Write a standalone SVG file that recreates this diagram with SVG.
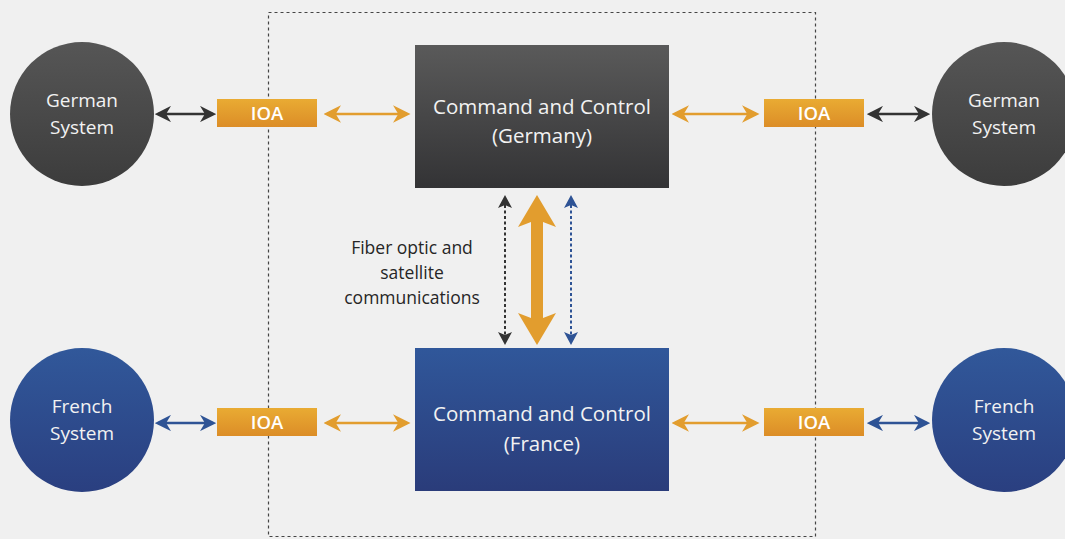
<svg xmlns="http://www.w3.org/2000/svg" width="1065" height="539" viewBox="0 0 1065 539">
<style>
text{font-family:"Open Sans","Noto Sans","DejaVu Sans",sans-serif;text-anchor:middle}
.w{fill:#f2f2f2;font-size:19px}
.cc{fill:#f2f2f2;font-size:20.5px}
.ioa{fill:#fff;font-size:18.5px;font-weight:600}
.lbl{fill:#262626;font-size:17.5px}
.blk{stroke:#333;stroke-width:2.5;fill:none}
.blu{stroke:#2e5395;stroke-width:2.5;fill:none}
.org{stroke:#e29d2e;stroke-width:2.5;fill:none}
</style>
<defs>
<linearGradient id="gGray" x1="0" y1="0" x2="0" y2="1"><stop offset="0" stop-color="#565656"/><stop offset="1" stop-color="#3c3c3c"/></linearGradient>
<linearGradient id="gBox" x1="0" y1="0" x2="0" y2="1"><stop offset="0" stop-color="#5a5a5a"/><stop offset="1" stop-color="#333335"/></linearGradient>
<linearGradient id="gBlue" x1="0" y1="0" x2="0" y2="1"><stop offset="0" stop-color="#31589a"/><stop offset="1" stop-color="#2a3f80"/></linearGradient>
<linearGradient id="gBlueBox" x1="0" y1="0" x2="0" y2="1"><stop offset="0" stop-color="#30579a"/><stop offset="1" stop-color="#2a3c7a"/></linearGradient>
<linearGradient id="gOrg" x1="0" y1="0" x2="0" y2="1"><stop offset="0" stop-color="#e9ab33"/><stop offset="1" stop-color="#dc8d27"/></linearGradient>
<marker id="aBlk" viewBox="0 0 10 10" refX="8" refY="5" markerWidth="6.5" markerHeight="6.5" markerUnits="strokeWidth" orient="auto-start-reverse"><path d="M0,0 L10,5 L0,10 L3,5 Z" fill="#333"/></marker>
<marker id="aBlu" viewBox="0 0 10 10" refX="8" refY="5" markerWidth="6.5" markerHeight="6.5" markerUnits="strokeWidth" orient="auto-start-reverse"><path d="M0,0 L10,5 L0,10 L3,5 Z" fill="#2e5395"/></marker>
<marker id="aOrg" viewBox="0 0 10 10" refX="8" refY="5" markerWidth="7" markerHeight="7" markerUnits="strokeWidth" orient="auto-start-reverse"><path d="M0,0 L10,5 L0,10 L3,5 Z" fill="#e29d2e"/></marker>
</defs>
<rect width="1065" height="539" fill="#f0f0f0"/>
<rect x="268.5" y="12.5" width="547" height="524" fill="none" stroke="#444" stroke-width="1.2" stroke-dasharray="3,3"/>

<g id="connectors">
<line class="blk" x1="158" y1="114" x2="213" y2="114" marker-start="url(#aBlk)" marker-end="url(#aBlk)"/>
<line class="blk" x1="870" y1="114" x2="927" y2="114" marker-start="url(#aBlk)" marker-end="url(#aBlk)"/>
<line class="blu" x1="158" y1="423" x2="213" y2="423" marker-start="url(#aBlu)" marker-end="url(#aBlu)"/>
<line class="blu" x1="870" y1="423" x2="927" y2="423" marker-start="url(#aBlu)" marker-end="url(#aBlu)"/>
<line class="org" x1="327" y1="114" x2="407" y2="114" marker-start="url(#aOrg)" marker-end="url(#aOrg)"/>
<line class="org" x1="675" y1="114" x2="756" y2="114" marker-start="url(#aOrg)" marker-end="url(#aOrg)"/>
<line class="org" x1="327" y1="423" x2="407" y2="423" marker-start="url(#aOrg)" marker-end="url(#aOrg)"/>
<line class="org" x1="675" y1="423" x2="756" y2="423" marker-start="url(#aOrg)" marker-end="url(#aOrg)"/>
<line x1="505" y1="205" x2="505" y2="336" stroke="#333" stroke-width="2" stroke-dasharray="3,2.5"/>
<path d="M505,195 L498,208 L505,205 L512,208 Z M505,345 L498,332 L505,335 L512,332 Z" fill="#333"/>
<line x1="571" y1="205" x2="571" y2="336" stroke="#2e5395" stroke-width="2" stroke-dasharray="3,2.5"/>
<path d="M571,195 L564,208 L571,205 L578,208 Z M571,345 L564,332 L571,335 L578,332 Z" fill="#2e5395"/>
<path d="M537,195 L556,227 L543,222 L543,318 L556,313 L537,345 L518,313 L531,318 L531,222 L518,227 Z" fill="#e29d2e"/>
</g>

<g id="german-left"><circle cx="82" cy="114" r="72" fill="url(#gGray)"/><text class="w" x="82" y="107">German</text><text class="w" x="82" y="134">System</text></g>
<g id="german-right"><circle cx="1004" cy="114" r="72" fill="url(#gGray)"/><text class="w" x="1004" y="107">German</text><text class="w" x="1004" y="134">System</text></g>
<g id="french-left"><circle cx="82" cy="420" r="72" fill="url(#gBlue)"/><text class="w" x="82" y="413">French</text><text class="w" x="82" y="440">System</text></g>
<g id="french-right"><circle cx="1004" cy="420" r="72" fill="url(#gBlue)"/><text class="w" x="1004" y="413">French</text><text class="w" x="1004" y="440">System</text></g>

<g id="ioa-tl"><rect x="217" y="99" width="100" height="28" fill="url(#gOrg)"/><text class="ioa" x="267" y="120">IOA</text></g>
<g id="ioa-tr"><rect x="764" y="99" width="100" height="28" fill="url(#gOrg)"/><text class="ioa" x="814" y="120">IOA</text></g>
<g id="ioa-bl"><rect x="217" y="408" width="100" height="28" fill="url(#gOrg)"/><text class="ioa" x="267" y="429">IOA</text></g>
<g id="ioa-br"><rect x="764" y="408" width="100" height="28" fill="url(#gOrg)"/><text class="ioa" x="814" y="429">IOA</text></g>

<g id="cc-germany"><rect x="415" y="45" width="254" height="143" fill="url(#gBox)"/><text class="cc" x="542" y="114">Command and Control</text><text class="cc" x="542" y="143">(Germany)</text></g>
<g id="cc-france"><rect x="415" y="348" width="254" height="143" fill="url(#gBlueBox)"/><text class="cc" x="542" y="421">Command and Control</text><text class="cc" x="542" y="451">(France)</text></g>

<g id="link-label"><text class="lbl" x="412" y="254">Fiber optic and</text><text class="lbl" x="412" y="279">satellite</text><text class="lbl" x="412" y="304">communications</text></g>
</svg>
